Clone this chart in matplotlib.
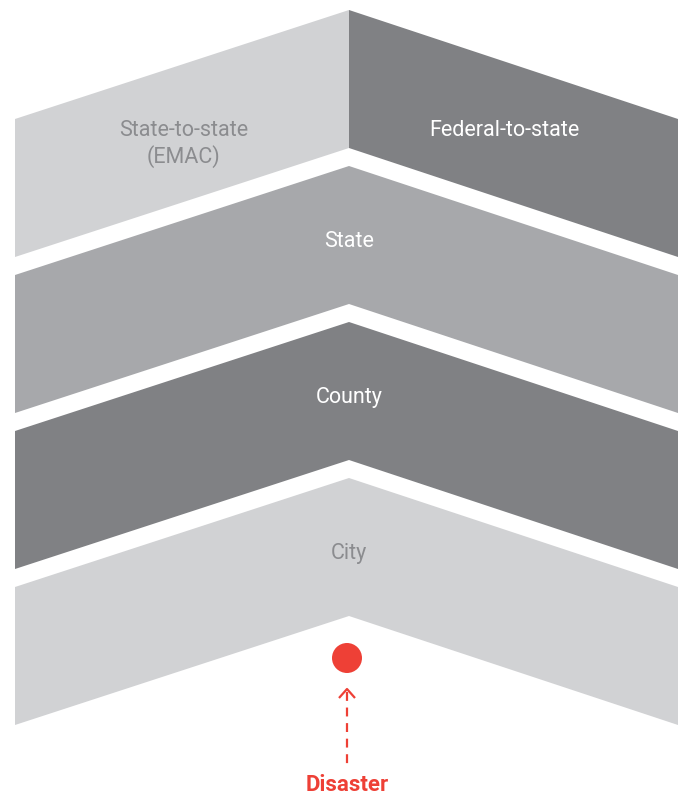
import matplotlib.pyplot as plt
from matplotlib.patches import Polygon, Circle

# tiers from top to bottom
tier_labels = ["State", "County", "City"]
tier_colors = ["#a7a8ab", "#808184", "#d1d2d4"]
tier_text = ["white", "white", "#8b8c8f"]
top_labels = [["State-to-state", "(EMAC)"], ["Federal-to-state"]]
top_colors = ["#d1d2d4", "#808184"]
top_text = ["#8b8c8f", "white"]
event_label = "Disaster"
red = "#ee4036"

W, H = 681, 797
fig = plt.figure(figsize=(W / 100, H / 100), dpi=100)
ax = fig.add_axes([0, 0, 1, 1])
ax.set_xlim(0, W)
ax.set_ylim(H, 0)
ax.axis("off")

xl, xc, xr = 15, 349, 678
drop = 109      # vertical drop from apex to the side edges
thick = 138     # chevron thickness
step = 156      # distance between chevrons
fs = 15.5


def chevron_half(top, side):
    xe = xl if side == "left" else xr
    return [(xc, top), (xe, top + drop), (xe, top + drop + thick), (xc, top + thick)]


# top split chevron
top0 = 10
for side, col, lines, tc, tx in zip(["left", "right"], top_colors, top_labels, top_text, [184, 504]):
    ax.add_patch(Polygon(chevron_half(top0, side), closed=True, facecolor=col, edgecolor="none"))
    for j, line in enumerate(lines):
        ax.text(tx, 136 + 27 * j, line, ha="center", va="baseline", color=tc, fontsize=fs,
                family="Roboto")

# lower chevrons
for i, (lab, col, tc) in enumerate(zip(tier_labels, tier_colors, tier_text)):
    top = top0 + step * (i + 1)
    pts = [(xc, top), (xr, top + drop), (xr, top + drop + thick), (xc, top + thick),
           (xl, top + drop + thick), (xl, top + drop)]
    ax.add_patch(Polygon(pts, closed=True, facecolor=col, edgecolor="none"))
    ax.text(xc, top + 81, lab, ha="center", va="baseline", color=tc, fontsize=fs,
            family="Roboto")

# disaster marker
ax.add_patch(Circle((347, 658), 15, facecolor=red, edgecolor="none"))
ax.plot([347, 347], [692, 765], color=red, lw=1.6, ls=(0, (4, 3)))
ax.plot([339, 347, 355], [698, 689, 698], color=red, lw=1.6, solid_capstyle="butt")
ax.text(347, 785, event_label, ha="center", va="center", color=red, fontsize=16,
        family="Roboto", fontweight="bold")

fig.savefig("out.png", dpi=100)
